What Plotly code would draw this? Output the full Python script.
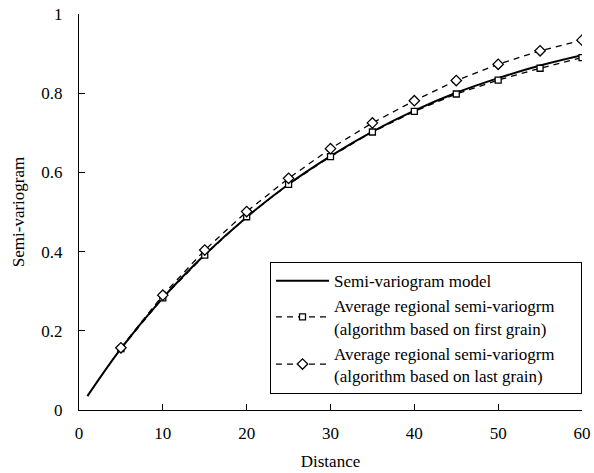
import plotly.graph_objects as go

# Data
model_x = [1, 5, 10, 15, 20, 25, 30, 35, 40, 45, 50, 55, 60]
model_y = [0.035, 0.155, 0.283, 0.392, 0.487, 0.570, 0.641, 0.703, 0.756, 0.801, 0.838, 0.870, 0.896]

grid_x = [5, 10, 15, 20, 25, 30, 35, 40, 45, 50, 55, 60]
first_grain = [0.155, 0.283, 0.391, 0.488, 0.570, 0.640, 0.702, 0.754, 0.798, 0.833, 0.863, 0.890]
last_grain = [0.157, 0.290, 0.404, 0.501, 0.585, 0.660, 0.725, 0.781, 0.832, 0.873, 0.907, 0.934]

x_ticks = [0, 10, 20, 30, 40, 50, 60]
y_ticks = [0, 0.2, 0.4, 0.6, 0.8, 1]

series_names = [
    "Semi-variogram model",
    "Average regional semi-variogrm<br>(algorithm based on first grain)",
    "Average regional semi-variogrm<br>(algorithm based on last grain)",
]

FONT = "Liberation Serif"
PAD = "\u00a0" * 5

fig = go.Figure()
fig.add_trace(go.Scatter(
    x=model_x, y=model_y, mode="lines", name=series_names[0],
    line=dict(color="black", width=2, shape="spline"),
))
fig.add_trace(go.Scatter(
    x=grid_x, y=first_grain, mode="lines+markers",
    name=series_names[1].replace("<br>", PAD + "<br>"),
    line=dict(color="black", width=1.3, dash="6px,5px"),
    marker=dict(symbol="square", size=6, color="white", line=dict(color="black", width=1.3)),
))
fig.add_trace(go.Scatter(
    x=grid_x, y=last_grain, mode="lines+markers",
    name=series_names[2].replace("<br>", PAD + "<br>"),
    line=dict(color="black", width=1.3, dash="6px,5px"),
    marker=dict(symbol="diamond", size=8, color="white", line=dict(color="black", width=1.3)),
))

fig.update_layout(
    width=594, height=473,
    margin=dict(l=79, r=12, t=14, b=63),
    paper_bgcolor="white", plot_bgcolor="white",
    font=dict(family=FONT, size=17, color="black"),
    showlegend=True,
    legend=dict(
        x=1.0, xanchor="right", y=0.04, yanchor="bottom",
        bordercolor="black", borderwidth=1, bgcolor="white",
        font=dict(family=FONT, size=17, color="black"),
        tracegroupgap=3, itemwidth=53,
    ),
    xaxis=dict(
        range=[0, 60], tickvals=x_ticks, ticks="inside", ticklen=6,
        tickcolor="black", showline=True, linecolor="black", linewidth=1,
        showgrid=False, zeroline=False, mirror=False, automargin=False,
        ticklabelstandoff=8,
        title=dict(text="Distance", font=dict(family=FONT, size=17, color="black"), standoff=12),
        tickfont=dict(family=FONT, size=17, color="black"),
    ),
    yaxis=dict(
        range=[0, 1], tickvals=y_ticks, ticks="inside", ticklen=6,
        tickcolor="black", showline=True, linecolor="black", linewidth=1,
        showgrid=False, zeroline=False, mirror=False, automargin=False,
        ticklabelstandoff=12,
        title=dict(text="Semi-variogram", font=dict(family=FONT, size=17, color="black"), standoff=12),
        tickfont=dict(family=FONT, size=17, color="black"),
    ),
)

fig.write_html("out.html", post_script="document.body.style.margin='0';",
               config={"displayModeBar": False})
